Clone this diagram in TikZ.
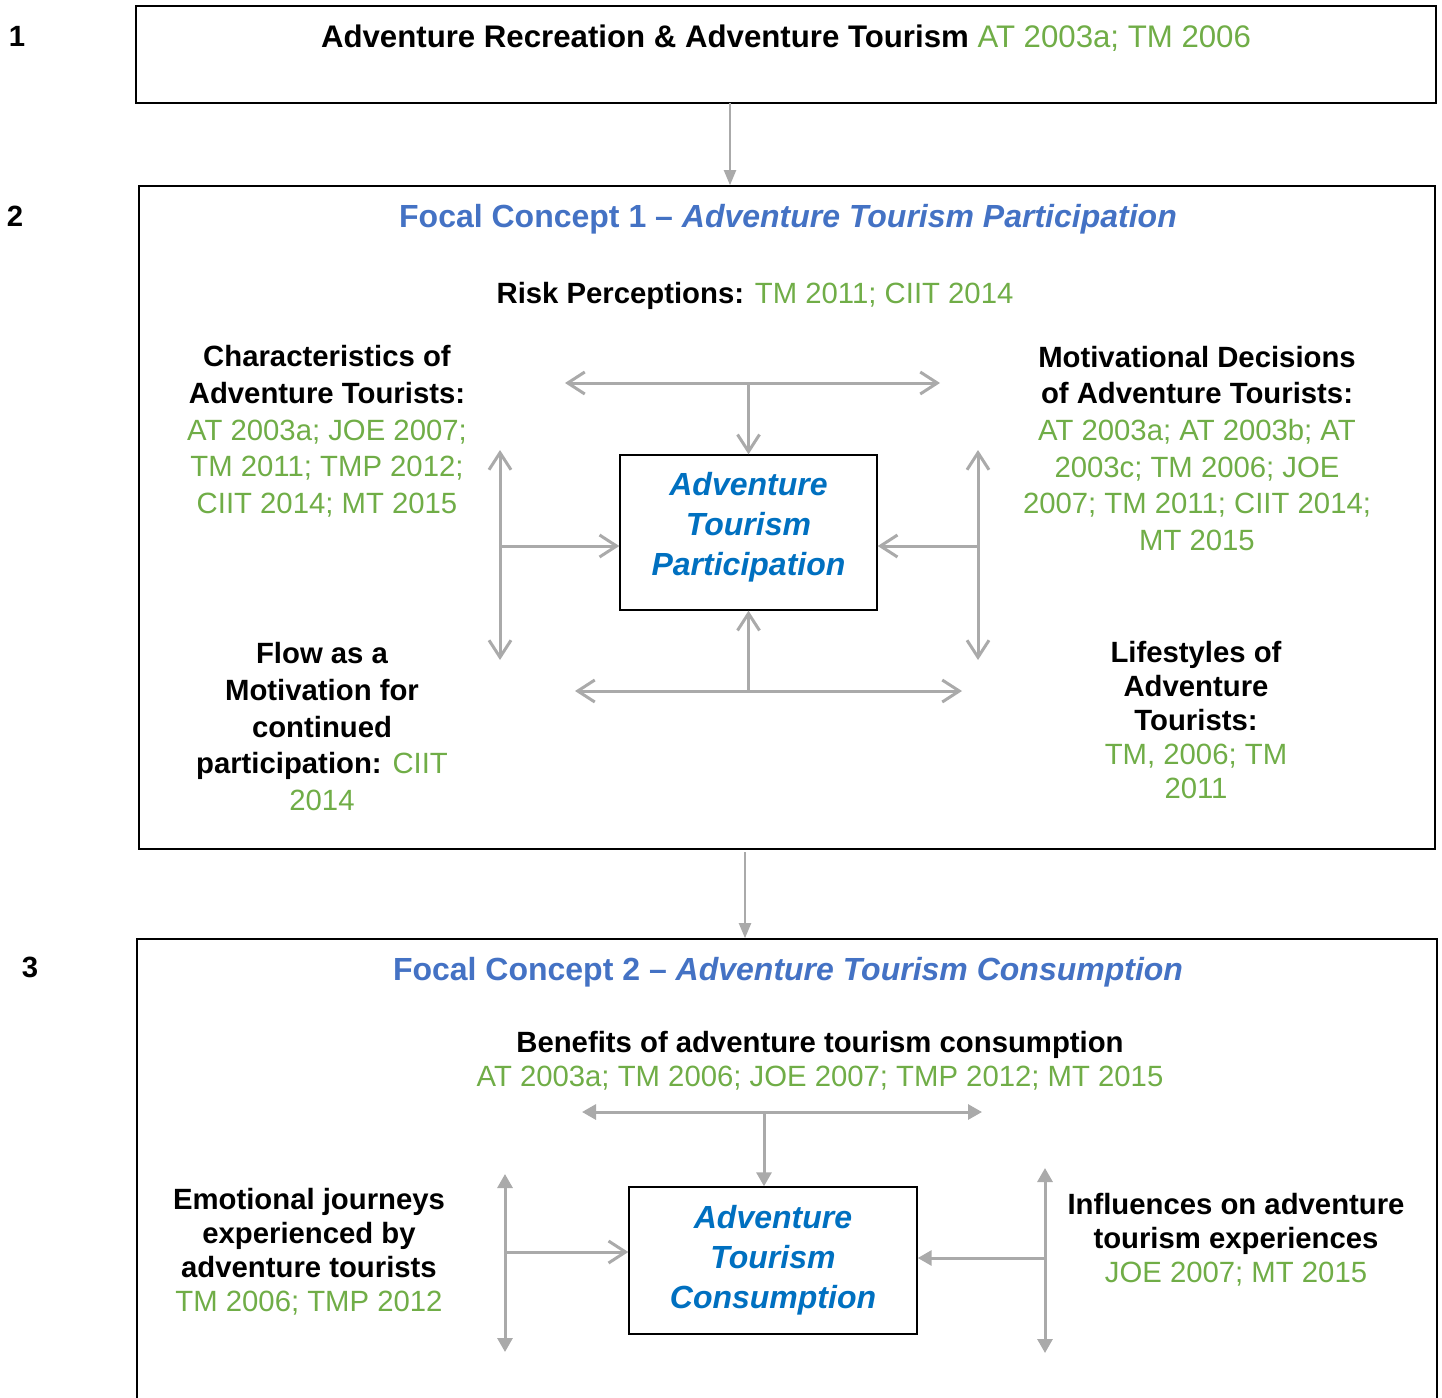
\documentclass[tikz,border=0pt]{standalone}
\usepackage{fontspec}
\setmainfont{Liberation Sans}
\usetikzlibrary{arrows.meta}
\definecolor{RefGreen}{RGB}{112,173,71}
\definecolor{HeadBlue}{RGB}{68,114,196}
\definecolor{CoreBlue}{RGB}{0,112,192}
\definecolor{ArrowGrey}{RGB}{170,170,170}
\newcommand\bodysize{\fontsize{29.3}{36.7}\selectfont}
\newcommand\srcref[1]{\textcolor{RefGreen}{\mdseries #1}}

\tikzset{
  lbl/.style={font=\bodysize\bfseries, align=center, inner sep=0pt, anchor=base},
  tightlbl/.style={lbl, font=\fontsize{29.3}{34}\selectfont\bfseries},
  heading/.style={lbl, text=HeadBlue, font=\fontsize{32}{40}\selectfont\bfseries},
  frame/.style={draw, line width=1.6pt, inner sep=0pt},
  corebox/.style={draw, line width=1.4pt, inner sep=0pt, align=center, text=CoreBlue,
    font=\fontsize{32}{40}\selectfont\bfseries\itshape},
  openarr/.style={ArrowGrey, line width=3pt, >={Straight Barb[length=17pt,width=22pt]}},
  fillarr/.style={ArrowGrey, line width=3pt, >={Triangle[length=14pt,width=15pt]}},
  thinarr/.style={ArrowGrey, line width=2pt, >={Triangle[length=15pt,width=12pt]}}
}

\begin{document}
\begin{tikzpicture}[x=1pt,y=-1pt]
\useasboundingbox (0,0) rectangle (1442,1397);
\clip (0,0) rectangle (1442,1397);

% level 1
\node[lbl] (num1) at (17,46.5) {1};
\node[frame, minimum width=1300pt, minimum height=97pt] (box1) at (786,54.5) {};
\node[lbl, font=\fontsize{31.2}{38}\selectfont\bfseries] (title1) at (786,48)
  {Adventure Recreation \& Adventure Tourism \srcref{AT 2003a; TM 2006}};

% level 2 (multi-line labels sit on their last baseline)
\node[lbl] (num2) at (15,226.5) {2};
\node[frame, minimum width=1296pt, minimum height=663pt] (box2) at (787,517.5) {};
\node[heading] (head1) at (788,227.5) {Focal Concept 1 – \textit{Adventure Tourism Participation}};
\node[lbl] (risk) at (755,303.5) {Risk Perceptions: \srcref{TM 2011; CIIT 2014}};
\node[lbl] (chars) at (327,513.5) {Characteristics of\\Adventure Tourists:\\
  \srcref{AT 2003a; JOE 2007;}\\\srcref{TM 2011; TMP 2012;}\\\srcref{CIIT 2014; MT 2015}};
\node[lbl] (motiv) at (1197,550.5) {Motivational Decisions\\of Adventure Tourists:\\
  \srcref{AT 2003a; AT 2003b; AT}\\\srcref{2003c; TM 2006; JOE}\\
  \srcref{2007; TM 2011; CIIT 2014;}\\\srcref{MT 2015}};
\node[lbl] (flow) at (322,810.5) {Flow as a\\Motivation for\\continued\\
  participation: \srcref{CIIT}\\\srcref{2014}};
\node[tightlbl] (life) at (1196,798.5) {Lifestyles of\\Adventure\\Tourists:\\
  \srcref{TM, 2006; TM}\\\srcref{2011}};
\node[corebox, minimum width=257pt, minimum height=155pt] (core1) at (748.5,532.5)
  {Adventure\\Tourism\\Participation\\[-22pt]};

\coordinate (riskL) at (565,383);
\coordinate (riskR) at (940,383);
\coordinate (charT) at (500,450);
\coordinate (charB) at (500,660);
\coordinate (charM) at (500,546);
\coordinate (motT) at (978,450);
\coordinate (motB) at (978,660);
\coordinate (motM) at (978,546);
\coordinate (lifeL) at (575,691);
\coordinate (lifeR) at (962,691);
\draw[openarr,<->] (riskL) -- (riskR);
\draw[openarr,->] (core1.north |- riskL) -- (core1.north);
\draw[openarr,<->] (charT) -- (charB);
\draw[openarr,->] (charM) -- (charM -| core1.west);
\draw[openarr,<->] (motT) -- (motB);
\draw[openarr,->] (motM) -- (motM -| core1.east);
\draw[openarr,<->] (lifeL) -- (lifeR);
\draw[openarr,->] (core1.south |- lifeL) -- (core1.south);

% level 3
\node[lbl] (num3) at (30,977.5) {3};
\node[frame, minimum width=1300pt, minimum height=482pt] (box3) at (787,1180) {};
\node[heading] (head2) at (788,980.5) {Focal Concept 2 – \textit{Adventure Tourism Consumption}};
\node[tightlbl] (benef) at (820,1086.5) {Benefits of adventure tourism consumption\\
  \srcref{AT 2003a; TM 2006; JOE 2007; TMP 2012; MT 2015}};
\node[tightlbl] (emot) at (309,1311.5) {Emotional journeys\\experienced by\\adventure tourists\\
  \srcref{TM 2006; TMP 2012}};
\node[tightlbl] (infl) at (1236,1282.5) {Influences on adventure\\tourism experiences\\
  \srcref{JOE 2007; MT 2015}};
\node[corebox, minimum width=288pt, minimum height=147pt] (core2) at (773,1260.5)
  {Adventure\\Tourism\\Consumption};

\coordinate (benL) at (582,1112);
\coordinate (benR) at (982,1112);
\coordinate (benM) at (764,1112);
\coordinate (emoT) at (505,1174);
\coordinate (emoB) at (505,1352);
\coordinate (emoM) at (505,1252);
\coordinate (infT) at (1045,1168);
\coordinate (infB) at (1045,1353);
\coordinate (infM) at (1045,1258);
\draw[fillarr,<->] (benL) -- (benR);
\draw[fillarr,->] (benM) -- (benM |- core2.north);
\draw[fillarr,<->] (emoT) -- (emoB);
\draw[openarr,->] (emoM) -- (emoM -| core2.west);
\draw[fillarr,<->] (infT) -- (infB);
\draw[fillarr,->] (infM) -- (infM -| core2.east);

% between levels
\coordinate (a1) at (730,103);
\coordinate (a2) at (745,852);
\draw[thinarr,->] (a1) -- (a1 |- box2.north);
\draw[thinarr,->] (a2) -- (a2 |- box3.north);
\end{tikzpicture}
\end{document}
